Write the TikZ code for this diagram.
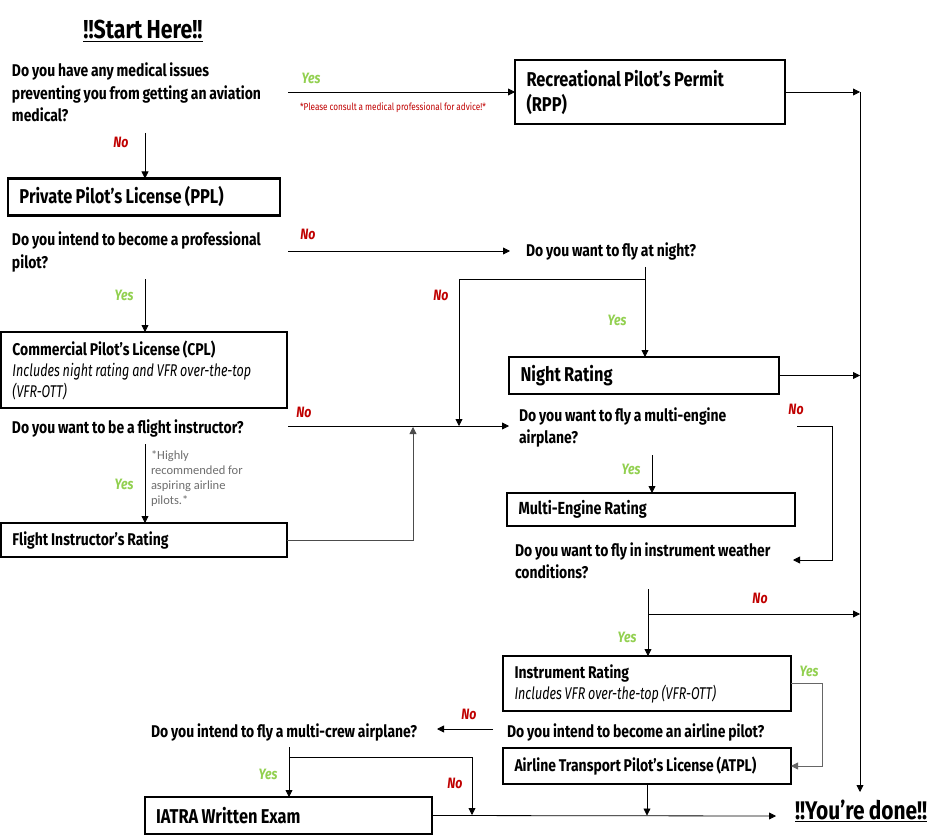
\documentclass[tikz,border=0pt]{standalone}
\usepackage{fontspec}
\setmainfont{Fira Sans}[FakeStretch=0.82, WordSpace=0.85, ItalicFeatures={FakeStretch=0.74}]
\newfontfamily\notefont{Carlito}
\usetikzlibrary{arrows.meta}
\definecolor{nored}{RGB}{192,0,0}
\definecolor{yesgreen}{RGB}{146,208,80}
\definecolor{notegray}{RGB}{110,110,110}
\begin{document}
\begin{tikzpicture}[x=1pt,y=-1pt,
  every node/.style={inner sep=0pt, outer sep=0pt},
  q/.style={anchor=base west, align=left, font=\fontsize{17}{22.5}\selectfont\bfseries},
  box/.style={draw, line width=2.5pt, anchor=north west, align=flush left, inner xsep=11.5pt, inner ysep=0pt},
  arr/.style={line width=0.8pt, -{Triangle[length=7pt,width=7pt]}},
  yes/.style={font=\fontsize{15}{15}\selectfont\bfseries\itshape, text=yesgreen},
  no/.style={font=\fontsize{15}{15}\selectfont\bfseries\itshape, text=nored}
]
\useasboundingbox[fill=white] (0,0) rectangle (940,837);

% title and end
\node[font=\fontsize{26}{26}\selectfont\bfseries, anchor=base] (start) at (143,39) {\underline{!!Start Here!!}};
\node[font=\fontsize{25.5}{25.5}\selectfont\bfseries, anchor=base west] (done) at (795,819) {\underline{!!You’re done!!}};

% boxes
\node[box, minimum width=270pt, text width=247pt, minimum height=64pt, font=\fontsize{20}{25}\selectfont\bfseries] (rpp) at (515,60) {Recreational Pilot’s Permit\\(RPP)};
\node[box, minimum width=272pt, text width=249pt, minimum height=37pt, font=\fontsize{20}{24}\selectfont\bfseries] (ppl) at (8,178.5) {Private Pilot’s License (PPL)};
\node[box, minimum width=286pt, text width=263pt, minimum height=76pt, font=\fontsize{17}{21}\selectfont\bfseries] (cpl) at (1,332) {Commercial Pilot’s License (CPL)\\{\mdseries\itshape Includes night rating and VFR over-the-top}\\{\mdseries\itshape (VFR-OTT)}};
\node[box, minimum width=270pt, text width=247pt, minimum height=37pt, font=\fontsize{20}{24}\selectfont\bfseries] (night) at (509,357) {Night Rating};
\node[box, minimum width=286pt, text width=263pt, minimum height=34pt, font=\fontsize{17}{22}\selectfont\bfseries] (fi) at (1,523) {Flight Instructor’s Rating};
\node[box, minimum width=288pt, text width=265pt, minimum height=33pt, font=\fontsize{17.5}{22}\selectfont\bfseries] (me) at (507,493) {Multi-Engine Rating};
\node[box, minimum width=288pt, text width=265pt, minimum height=55pt, font=\fontsize{17}{21}\selectfont\bfseries] (ir) at (503,656) {Instrument Rating\\{\mdseries\itshape Includes VFR over-the-top (VFR-OTT)}};
\node[box, minimum width=288pt, text width=265pt, minimum height=36pt, font=\fontsize{17}{21}\selectfont\bfseries] (atpl) at (503,748) {Airline Transport Pilot’s License (ATPL)};
\node[box, minimum width=287pt, text width=265pt, minimum height=37pt, inner xsep=11pt, font=\fontsize{20}{24}\selectfont\bfseries] (iatra) at (145,797) {IATRA Written Exam};

% questions (base anchor = baseline of the last line)
\node[q] (q1) at (12,122) {Do you have any medical issues\\preventing you from getting an aviation\\medical?};
\node[q] (q2) at (12,268.5) {Do you intend to become a professional\\pilot?};
\node[q] (nightq) at (526,257) {Do you want to fly at night?};
\node[q] (q3) at (12,433) {Do you want to be a flight instructor?};
\node[q] (q4) at (519,443.5) {Do you want to fly a multi-engine\\airplane?};
\node[q] (q5) at (515,578.5) {Do you want to fly in instrument weather\\conditions?};
\node[q] (q6) at (507,737) {Do you intend to become an airline pilot?};
\node[q] (q7) at (151,737) {Do you intend to fly a multi-crew airplane?};

% Q1
\coordinate (q1y) at (288,92);
\draw[arr] (q1y) -- (rpp.west);
\node[yes] (yes1) at (311,78) {Yes};
\node[anchor=west, font=\fontsize{10}{10}\selectfont, text=nored] (note1) at (300,108) {*Please consult a medical professional for advice!*};
\coordinate (railtop) at (860,92);
\coordinate (railbot) at (860,792);
\draw[arr] (rpp.east) -- (railtop);
\draw[arr] (railtop) -- (railbot);
\coordinate (q1n) at (145,133);
\draw[arr] (q1n) -- (q1n |- ppl.north);
\node[no] (no1) at (121,142) {No};

% Q2
\coordinate (q2n) at (288,251);
\coordinate (nightin) at (510,251);
\draw[arr] (q2n) -- (nightin);
\node[no] (no2) at (308,234) {No};
\coordinate (q2y) at (145,279);
\draw[arr] (q2y) -- (q2y |- cpl.north);
\node[yes] (yes2) at (124,295) {Yes};

% night question
\coordinate (nq) at (645,267);
\draw[arr] (nq) -- (nq |- night.north);
\coordinate (nqb) at (645,279);
\coordinate (nql) at (459,279);
\coordinate (nqd) at (459,426);
\draw[arr] (nqb) -- (nql) -- (nqd);
\node[no] (no3) at (441,295) {No};
\node[yes] (yes3) at (617,320) {Yes};
\draw[arr] (night.east) -- (night.east -| railtop);

% Q3
\coordinate (q3n) at (288,426);
\coordinate (q4in) at (509,426);
\draw[arr] (q3n) -- (q4in);
\node[no] (no4) at (304,412) {No};
\coordinate (q3y) at (145,444);
\draw[arr] (q3y) -- (q3y |- fi.north);
\node[yes] (yes4) at (124,484) {Yes};
\node[anchor=north west, align=left, font=\notefont\fontsize{12.5}{14.8}\selectfont, text=notegray] (note2) at (151,451) {*Highly\\recommended for\\aspiring airline\\pilots.*};
\coordinate (fir) at (413,540);
\coordinate (fit) at (413,427);
\draw[arr, draw=black!70] (fi.east) -- (fir) -- (fit);

% Q4
\coordinate (q4y) at (652,455);
\draw[arr] (q4y) -- (q4y |- me.north);
\node[yes] (yes5) at (631,469) {Yes};
\coordinate (q4n) at (797,426);
\coordinate (q4n1) at (832,426);
\coordinate (q4n2) at (832,560);
\coordinate (q5in) at (793,560);
\draw[arr] (q4n) -- (q4n1) -- (q4n2) -- (q5in);
\node[no] (no5) at (796,409) {No};

% Q5
\coordinate (q5d) at (648,589);
\draw[arr] (q5d) -- (q5d |- ir.north);
\coordinate (q5b) at (648,614);
\draw[arr] (q5b) -- (q5b -| railtop);
\node[no] (no6) at (760,598) {No};
\node[yes] (yes6) at (627,637) {Yes};

% IR yes
\coordinate (iry) at (822,686);
\draw[arr, draw=black!60] (ir.east) -- (ir.east -| iry) -- (iry |- atpl.east) -- (atpl.east);
\node[yes] (yes7) at (809,671) {Yes};

% Q6
\coordinate (q6n) at (493,729);
\coordinate (q7in) at (437,729);
\draw[arr] (q6n) -- (q7in);
\node[no] (no7) at (469,714) {No};
\draw[arr] (atpl.south) -- (atpl.south |- iatra.east);

% Q7
\coordinate (q7y) at (289,747);
\draw[arr] (q7y) -- (q7y |- iatra.north);
\coordinate (q7b) at (289,757);
\coordinate (q7r) at (472,757);
\coordinate (q7d) at (472,815);
\draw[arr] (q7b) -- (q7r) -- (q7d);
\node[yes] (yes8) at (268,774) {Yes};
\node[no] (no8) at (455,783) {No};
\coordinate (donein) at (776,816);
\draw[arr] (iatra.east) -- (donein);
\end{tikzpicture}
\end{document}
